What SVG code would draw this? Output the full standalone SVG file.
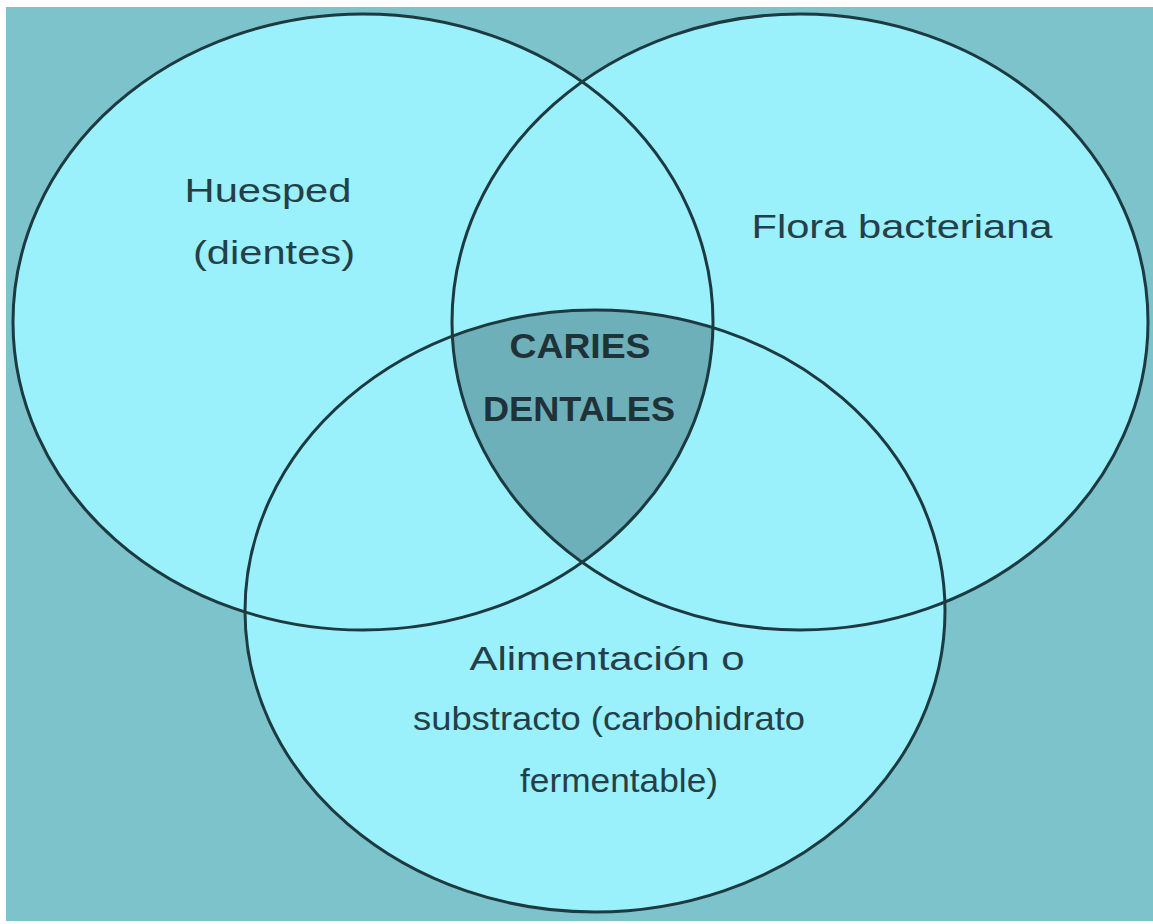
<svg xmlns="http://www.w3.org/2000/svg" width="1153" height="924" viewBox="0 0 1153 924">
<style>
.c{fill:#9af0fb;stroke:none}
.o{fill:none;stroke:#1c3a40;stroke-width:3}
.t{font-family:"Liberation Sans",Arial,sans-serif;font-size:33px;fill:#243f47;text-anchor:middle}
.b{font-family:"Liberation Sans",Arial,sans-serif;font-size:35px;font-weight:bold;fill:#1f3238;text-anchor:middle}
</style>
<defs>
<clipPath id="clipL"><ellipse cx="363" cy="322" rx="350" ry="308"/></clipPath>
<clipPath id="clipR"><ellipse cx="800" cy="322" rx="348" ry="308"/></clipPath>
</defs>
<rect x="0" y="0" width="1153" height="924" fill="#ffffff"/>
<rect x="6" y="7" width="1147" height="914" fill="#7cc3cb"/>
<g id="fills">
<ellipse class="c" cx="363" cy="322" rx="350" ry="308"/>
<ellipse class="c" cx="800" cy="322" rx="348" ry="308"/>
<ellipse class="c" cx="595" cy="611" rx="350" ry="301"/>
<g clip-path="url(#clipL)"><g clip-path="url(#clipR)"><ellipse cx="595" cy="611" rx="350" ry="301" fill="#6db0ba"/></g></g>
</g>
<g id="huesped">
<ellipse class="o" cx="363" cy="322" rx="350" ry="308"/>
<text class="t" x="268" y="202" textLength="167" lengthAdjust="spacingAndGlyphs">Huesped</text>
<text class="t" x="274" y="264" textLength="162" lengthAdjust="spacingAndGlyphs">(dientes)</text>
</g>
<g id="flora">
<ellipse class="o" cx="800" cy="322" rx="348" ry="308"/>
<text class="t" x="902" y="238" textLength="301" lengthAdjust="spacingAndGlyphs">Flora bacteriana</text>
</g>
<g id="alimentacion">
<ellipse class="o" cx="595" cy="611" rx="350" ry="301"/>
<text class="t" x="607" y="670" textLength="275" lengthAdjust="spacingAndGlyphs">Alimentación o</text>
<text class="t" x="609" y="730" textLength="392" lengthAdjust="spacingAndGlyphs">substracto (carbohidrato</text>
<text class="t" x="619" y="792" textLength="198" lengthAdjust="spacingAndGlyphs">fermentable)</text>
</g>
<g id="caries">
<text class="b" x="580" y="358" textLength="141" lengthAdjust="spacingAndGlyphs">CARIES</text>
<text class="b" x="579" y="421" textLength="192" lengthAdjust="spacingAndGlyphs">DENTALES</text>
</g>
<g id="connectors"/>
</svg>
